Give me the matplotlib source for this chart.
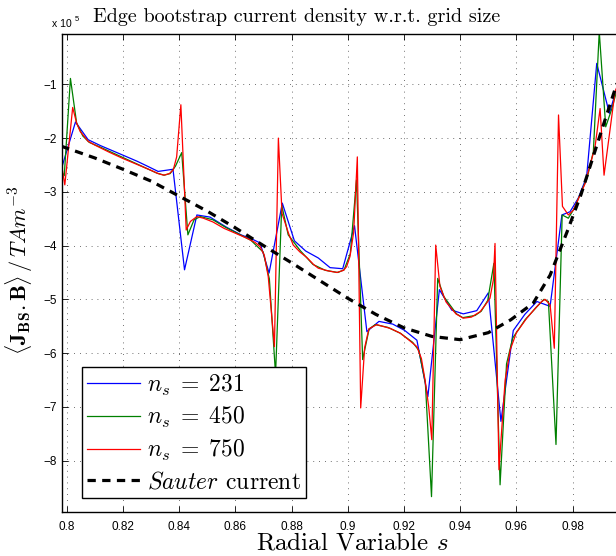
import matplotlib
matplotlib.use("Agg")
import matplotlib.pyplot as plt
from matplotlib.ticker import FixedLocator, FuncFormatter

plt.rcParams["mathtext.fontset"] = "cm"
plt.rcParams["axes.formatter.use_mathtext"] = True

SCALE = 1e5  # current density values below are in units of 1e5 T A m^-3

# n_s = 231
s_231 = [0.7982, 0.8031, 0.8076, 0.8120, 0.8165, 0.8210, 0.8250, 0.8290, 0.8325,
         0.8378, 0.8419, 0.8463, 0.8510, 0.8569, 0.8620, 0.8660, 0.8688, 0.8720,
         0.8767, 0.8810, 0.8850, 0.8895, 0.8937, 0.8982, 0.9024, 0.9068, 0.9111,
         0.9160, 0.9203, 0.9246, 0.9285, 0.9326, 0.9370, 0.9411, 0.9459, 0.9500,
         0.9545, 0.9589, 0.9630, 0.9673, 0.9720, 0.9762, 0.9791, 0.9820, 0.9850,
         0.9886, 0.9931, 0.9960]
j_231 = [-2.55, -1.70, -2.03, -2.14, -2.24, -2.34, -2.43, -2.53, -2.62,
         -2.58, -4.45, -3.43, -3.47, -3.66, -3.80, -3.88, -3.95, -4.51,
         -3.21, -3.91, -4.10, -4.23, -4.41, -4.43, -3.63, -5.60, -5.41,
         -5.46, -5.58, -5.76, -6.81, -4.82, -5.20, -5.27, -5.21, -4.88,
         -7.27, -5.58, -5.28, -5.04, -5.13, -3.43, -3.37, -3.12, -2.72,
         -0.61, -1.54, -1.02]

# n_s = 450
s_450 = [0.7980, 0.7991, 0.8013, 0.8035, 0.8057, 0.8080, 0.8120, 0.8170, 0.8220,
         0.8270, 0.8320, 0.8346, 0.8368, 0.8387, 0.8409, 0.8431, 0.8453, 0.8475,
         0.8520, 0.8565, 0.8610, 0.8655, 0.8699, 0.8721, 0.8743, 0.8765, 0.8788,
         0.8832, 0.8876, 0.8920, 0.8965, 0.8987, 0.9009, 0.9031, 0.9053, 0.9076,
         0.9098, 0.9142, 0.9187, 0.9231, 0.9253, 0.9276, 0.9298, 0.9320, 0.9342,
         0.9387, 0.9409, 0.9453, 0.9475, 0.9498, 0.9520, 0.9542, 0.9565, 0.9587,
         0.9631, 0.9676, 0.9698, 0.9714, 0.9741, 0.9763, 0.9785, 0.9807, 0.9829,
         0.9852, 0.9874, 0.9895, 0.9918, 0.9940, 0.9962]
j_450 = [-2.62, -2.70, -0.89, -1.72, -1.96, -2.08, -2.17, -2.29, -2.41,
         -2.53, -2.65, -2.69, -2.66, -2.52, -2.27, -3.80, -3.52, -3.46,
         -3.52, -3.66, -3.78, -3.90, -4.12, -4.62, -6.40, -3.25, -3.80,
         -4.10, -4.35, -4.46, -4.50, -4.45, -4.15, -2.78, -6.12, -5.55,
         -5.47, -5.52, -5.63, -5.80, -5.95, -6.55, -8.67, -4.61, -4.95,
         -5.27, -5.34, -5.30, -5.22, -5.02, -4.33, -8.45, -6.20, -5.72,
         -5.38, -5.12, -5.00, -5.04, -7.70, -3.43, -3.49, -3.30, -3.02,
         -2.74, -2.25, -0.02, -1.79, -1.45, -1.02]

# n_s = 750
s_750 = [0.7982, 0.7993, 0.8021, 0.8035, 0.8048, 0.8064, 0.8076, 0.8100, 0.8150,
         0.8200, 0.8250, 0.8300, 0.8325, 0.8346, 0.8365, 0.8379, 0.8391, 0.8406,
         0.8425, 0.8440, 0.8463, 0.8486, 0.8520, 0.8560, 0.8600, 0.8640, 0.8670,
         0.8688, 0.8703, 0.8717, 0.8739, 0.8753, 0.8766, 0.8789, 0.8806, 0.8830,
         0.8854, 0.8880, 0.8895, 0.8930, 0.8961, 0.8985, 0.8996, 0.9008, 0.9021,
         0.9034, 0.9046, 0.9060, 0.9075, 0.9103, 0.9151, 0.9187, 0.9216, 0.9246,
         0.9262, 0.9275, 0.9288, 0.9299, 0.9313, 0.9328, 0.9350, 0.9385, 0.9411,
         0.9440, 0.9471, 0.9490, 0.9506, 0.9518, 0.9524, 0.9538, 0.9560, 0.9578,
         0.9600, 0.9637, 0.9670, 0.9690, 0.9702, 0.9720, 0.9735, 0.9750, 0.9764,
         0.9785, 0.9803, 0.9845, 0.9880, 0.9898, 0.9912, 0.9951, 0.9965]
j_750 = [-2.52, -2.87, -1.43, -1.72, -1.88, -1.98, -2.06, -2.13, -2.26,
         -2.38, -2.49, -2.60, -2.66, -2.69, -2.66, -2.59, -2.35, -1.38,
         -3.71, -3.55, -3.46, -3.49, -3.56, -3.68, -3.77, -3.86, -3.94,
         -4.02, -4.18, -4.58, -5.88, -2.00, -3.40, -3.77, -3.99, -4.12,
         -4.22, -4.36, -4.42, -4.47, -4.50, -4.46, -4.39, -4.20, -3.75,
         -2.35, -7.02, -5.90, -5.55, -5.47, -5.54, -5.63, -5.75, -5.88,
         -6.10, -6.50, -7.00, -7.61, -3.99, -4.76, -5.05, -5.27, -5.35,
         -5.33, -5.23, -5.10, -4.98, -4.64, -3.96, -8.17, -6.50, -5.94,
         -5.62, -5.35, -5.15, -5.04, -5.00, -5.10, -5.91, -1.57, -3.27,
         -3.43, -3.34, -2.84, -2.16, -1.45, -2.69, -1.14, -0.95]

# Sauter model
s_sauter = [0.7980, 0.8100, 0.8200, 0.8300, 0.8400, 0.8500, 0.8600, 0.8700,
            0.8800, 0.8900, 0.9000, 0.9100, 0.9200, 0.9300, 0.9400, 0.9500,
            0.9580, 0.9660, 0.9720, 0.9780, 0.9830, 0.9870, 0.9910, 0.9960]
j_sauter = [-2.15, -2.37, -2.58, -2.80, -3.08, -3.36, -3.67, -4.00,
            -4.32, -4.65, -4.98, -5.28, -5.53, -5.69, -5.75, -5.62,
            -5.38, -5.07, -4.55, -3.75, -3.05, -2.40, -1.75, -0.95]

x_ticks = [0.80, 0.82, 0.84, 0.86, 0.88, 0.90, 0.92, 0.94, 0.96, 0.98]
y_ticks = [-8, -7, -6, -5, -4, -3, -2, -1]

fig = plt.figure(figsize=(6.16, 5.56), dpi=100)
ax = fig.add_axes([0.1002, 0.0797, 0.9, 0.859])


def scaled(vals):
    return [v * SCALE for v in vals]


ax.plot(s_231, scaled(j_231), color=(0, 0, 1), lw=0.9, label=r"$n_s\;=\;231$")
ax.plot(s_450, scaled(j_450), color=(0, 0.5, 0), lw=0.9, label=r"$n_s\;=\;450$")
ax.plot(s_750, scaled(j_750), color=(1, 0, 0), lw=0.9, label=r"$n_s\;=\;750$")
ax.plot(s_sauter, scaled(j_sauter), color="k", lw=2.3, dashes=(2.6, 2.0),
        label=r"$Sauter$ current")

ax.set_xlim(0.7982, 0.9955)
ax.set_ylim(-8.95 * SCALE, -0.065 * SCALE)

ax.xaxis.set_major_locator(FixedLocator(x_ticks))
ax.yaxis.set_major_locator(FixedLocator([t * SCALE for t in y_ticks]))
ax.xaxis.set_major_formatter(FuncFormatter(lambda v, p: f"{v:g}"))
ax.yaxis.set_major_formatter(
    FuncFormatter(lambda v, p: f"{v / SCALE:.0f}".replace("-", "\u2212")))

ax.tick_params(direction="in", length=4, width=0.6, top=True, right=False,
               labelsize=8.5, color="k")
ax.tick_params(axis="x", pad=7)
for lab in ax.get_xticklabels() + ax.get_yticklabels():
    lab.set_family("Liberation Sans")

ax.grid(True, color="0.25", linestyle=(0, (1, 6)), linewidth=0.6)
ax.set_axisbelow(True)
for side in ("left", "top", "bottom"):
    ax.spines[side].set_linewidth(1.0)
ax.spines["right"].set_visible(False)

leg = ax.legend(loc="lower left", bbox_to_anchor=(0.0361, 0.028),
                prop={"family": "cmr10", "size": 17}, frameon=True,
                fancybox=False, edgecolor="k", framealpha=1, borderpad=0.22,
                labelspacing=0.33, handlelength=2.25, handletextpad=0.3,
                borderaxespad=0)
leg.get_frame().set_linewidth(1.0)

fig.text(296.5 / 616, 1 - 17 / 556,
         "Edge bootstrap current density w.r.t. grid size",
         ha="center", va="center", family="cmr10", size=14.5)
fig.text(352 / 616, 1 - 543 / 556, r"Radial Variable $s$",
         ha="center", va="center", family="cmr10", size=18)
fig.text(19 / 616, 1 - 270 / 556,
         r"$\langle \mathbf{J}_{\mathbf{BS}}.\mathbf{B}\rangle\,/\,TAm^{-3}$",
         ha="center", va="center", rotation=90, size=16)
fig.text(52 / 616, 1 - 27 / 556, "x 10", ha="left", va="baseline",
         family="Liberation Sans", size=7.5)
fig.text(75 / 616, 1 - 21 / 556, "5", ha="left", va="baseline",
         family="Liberation Sans", size=5.5)

fig.savefig("out.png", dpi=100)
